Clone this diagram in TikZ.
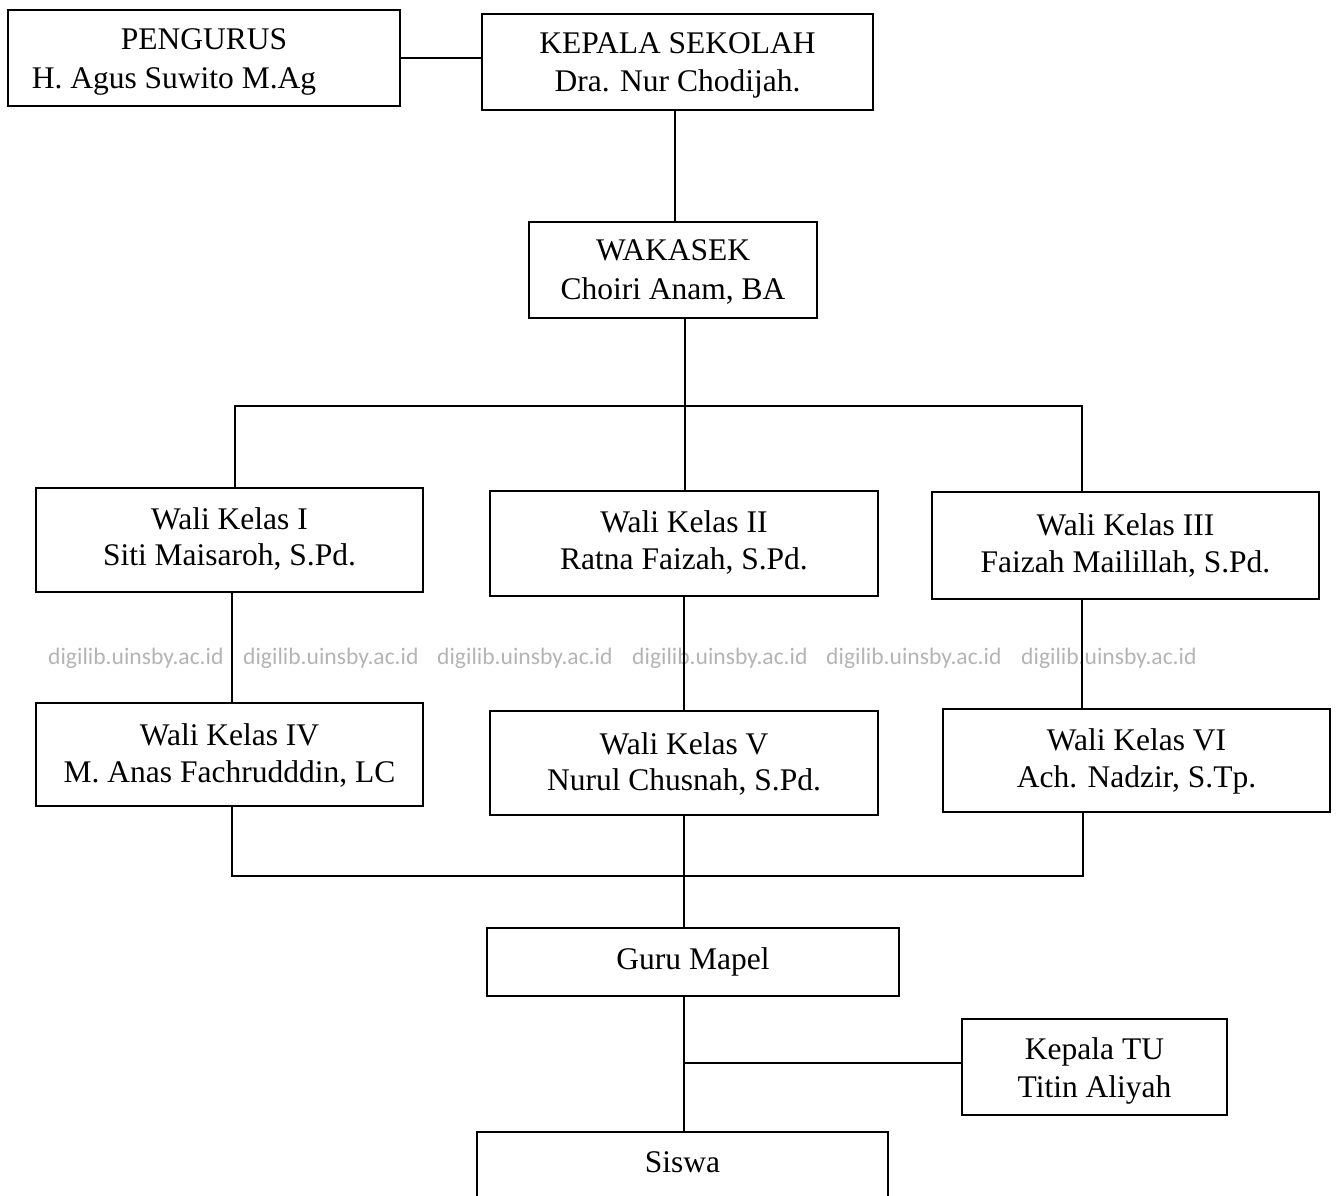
\documentclass[tikz,border=0pt]{standalone}
\usepackage{fontspec}
\setmainfont{Liberation Serif}
\newfontfamily\wmfont{Carlito}
\definecolor{wmgray}{RGB}{180,180,180}
\begin{document}
\begin{tikzpicture}[x=1pt,y=-1pt,
  box/.style={draw=black, line width=1.9pt, rectangle, inner sep=0pt},
  txt/.style={inner sep=0pt, align=center, font=\fontsize{31.5}{38.5}\selectfont},
  wtxt/.style={txt, font=\fontsize{31.5}{36.5}\selectfont},
  conn/.style={draw=black, line width=1.9pt},
  wm/.style={text=wmgray, font=\wmfont\fontsize{23.6}{26}\selectfont, inner sep=0pt, anchor=west}]
\useasboundingbox (0,0) rectangle (1336,1195);
\clip (0,0) rectangle (1336,1195);
% watermark
\foreach \i/\xx in {1/48, 2/243, 3/437, 4/632, 5/826, 6/1021}{
  \node[wm] (wm\i) at (\xx,658) {digilib.uinsby.ac.id};
}
% boxes
\node[box, minimum width=392pt, minimum height=96pt] (peng) at (204,58) {};
\node[box, minimum width=391pt, minimum height=96pt] (kepsek) at (677.5,62) {};
\node[box, minimum width=288pt, minimum height=96pt] (wakasek) at (673,270) {};
\node[box, minimum width=387pt, minimum height=104pt] (w1) at (229.5,540) {};
\node[box, minimum width=388pt, minimum height=105pt] (w2) at (684,543.5) {};
\node[box, minimum width=387pt, minimum height=107pt] (w3) at (1125.5,545.5) {};
\node[box, minimum width=387pt, minimum height=103pt] (w4) at (229.5,754.5) {};
\node[box, minimum width=388pt, minimum height=104pt] (w5) at (684,763) {};
\node[box, minimum width=387pt, minimum height=103pt] (w6) at (1136.5,760.5) {};
\node[box, minimum width=412pt, minimum height=68pt] (guru) at (693,962) {};
\node[box, minimum width=265pt, minimum height=96pt] (tu) at (1094.5,1067) {};
\node[box, minimum width=411pt, minimum height=100pt] (siswa) at (682.5,1182) {};
% texts
\node[txt] (pengT) at ([yshift=-4pt]peng.center) {PENGURUS\\\hspace*{-60pt}H. Agus Suwito M.Ag};
\node[txt] (kepsekT) at ([yshift=-3.5pt]kepsek.center) {KEPALA SEKOLAH\\Dra. Nur Chodijah.};
\node[txt] (wakasekT) at ([yshift=-2pt]wakasek.center) {WAKASEK\\Choiri Anam, BA};
\node[wtxt] (w1T) at ([yshift=1pt]w1.center) {Wali Kelas I\\Siti Maisaroh, S.Pd.};
\node[wtxt] (w2T) at ([yshift=1pt]w2.center) {Wali Kelas II\\Ratna Faizah, S.Pd.};
\node[wtxt] (w3T) at ([yshift=0pt]w3.center) {Wali Kelas III\\Faizah Mailillah, S.Pd.};
\node[wtxt] (w4T) at ([yshift=-1pt]w4.center) {Wali Kelas IV\\M. Anas Fachrudddin, LC};
\node[wtxt] (w5T) at ([yshift=-1pt]w5.center) {Wali Kelas V\\Nurul Chusnah, S.Pd.};
\node[wtxt] (w6T) at ([yshift=-1pt]w6.center) {Wali Kelas VI\\Ach. Nadzir, S.Tp.};
\node[txt] (guruT) at ([yshift=0pt]guru.center) {Guru Mapel};
\node[txt] (tuT) at ([yshift=-4pt]tu.center) {Kepala TU\\Titin Aliyah};
\node[txt] (siswaT) at (siswa.center |- 0,1162) {Siswa};
% junctions
\coordinate (bus1L) at (235,406);
\coordinate (bus1M) at (685,406);
\coordinate (bus1R) at (1082,406);
\coordinate (bus2L) at (232,876);
\coordinate (bus2M) at (684,876);
\coordinate (bus2R) at (1083,876);
\coordinate (spine) at (684,1063);
% connectors
\draw[conn] (peng.east) -- (peng.east -| kepsek.west);
\draw[conn] ([xshift=-2.5pt]kepsek.south) -- ([xshift=-2.5pt]kepsek.south |- wakasek.north);
\draw[conn] (bus1M |- wakasek.south) -- (bus1M);
\draw[conn] (bus1L |- w1.north) -- (bus1L) -- (bus1R) -- (bus1R |- w3.north);
\draw[conn] (bus1M) -- (bus1M |- w2.north);
\draw[conn] ([xshift=2.5pt]w1.south) -- ([xshift=2.5pt]w1.south |- w4.north);
\draw[conn] (w2.south) -- (w2.south |- w5.north);
\draw[conn] ([xshift=-43.5pt]w3.south) -- ([xshift=-43.5pt]w3.south |- w6.north);
\draw[conn] (bus2L |- w4.south) -- (bus2L) -- (bus2R) -- (bus2R |- w6.south);
\draw[conn] (w5.south) -- (w5.south |- guru.north);
\draw[conn] (spine |- guru.south) -- (spine |- siswa.north);
\draw[conn] (spine) -- (spine -| tu.west);
\end{tikzpicture}
\end{document}
